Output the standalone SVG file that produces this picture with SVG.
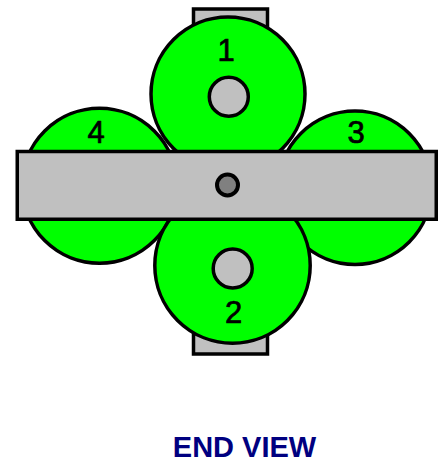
<svg xmlns="http://www.w3.org/2000/svg" width="440" height="464" viewBox="0 0 440 464">
<style>
.g{fill:#c0c0c0;stroke:#000;stroke-width:3.5}
.w{fill:#00ff00;stroke:#000;stroke-width:3.5}
.n{font-family:"Liberation Sans",Arial,sans-serif;font-size:31px;fill:#000;stroke:#000;stroke-width:.7;text-anchor:middle}
.t{font-family:"Liberation Sans",Arial,sans-serif;font-size:29px;font-weight:bold;fill:#000080;text-anchor:middle}
</style>
<rect width="440" height="464" fill="#fff"/>
<g id="plate-top"><rect class="g" x="193.500" y="9" width="74" height="30"/></g>
<g id="plate-bottom"><rect class="g" x="193.500" y="320" width="74" height="34"/></g>
<g id="roller-3"><circle class="w" cx="355" cy="187.700" r="76.700"/><text class="n" x="356" y="143">3</text></g>
<g id="roller-4"><circle class="w" cx="99.500" cy="185.800" r="77.500"/><text class="n" x="96" y="143">4</text></g>
<g id="roller-1"><circle class="w" cx="228" cy="94" r="77"/><circle class="g" cx="228.800" cy="96.700" r="19.500"/><text class="n" x="226" y="61">1</text></g>
<g id="roller-2"><circle class="w" cx="232.500" cy="265.500" r="77.700"/><circle class="g" cx="232.700" cy="268.500" r="19.500"/><text class="n" x="233.500" y="323">2</text></g>
<g id="bar"><rect class="g" x="17.250" y="151.500" width="419" height="67.750"/><circle cx="227.500" cy="185" r="10.500" fill="#808080" stroke="#000" stroke-width="4"/></g>
<g id="connectors"></g>
<text class="t" x="244.500" y="457">END VIEW</text>
</svg>
